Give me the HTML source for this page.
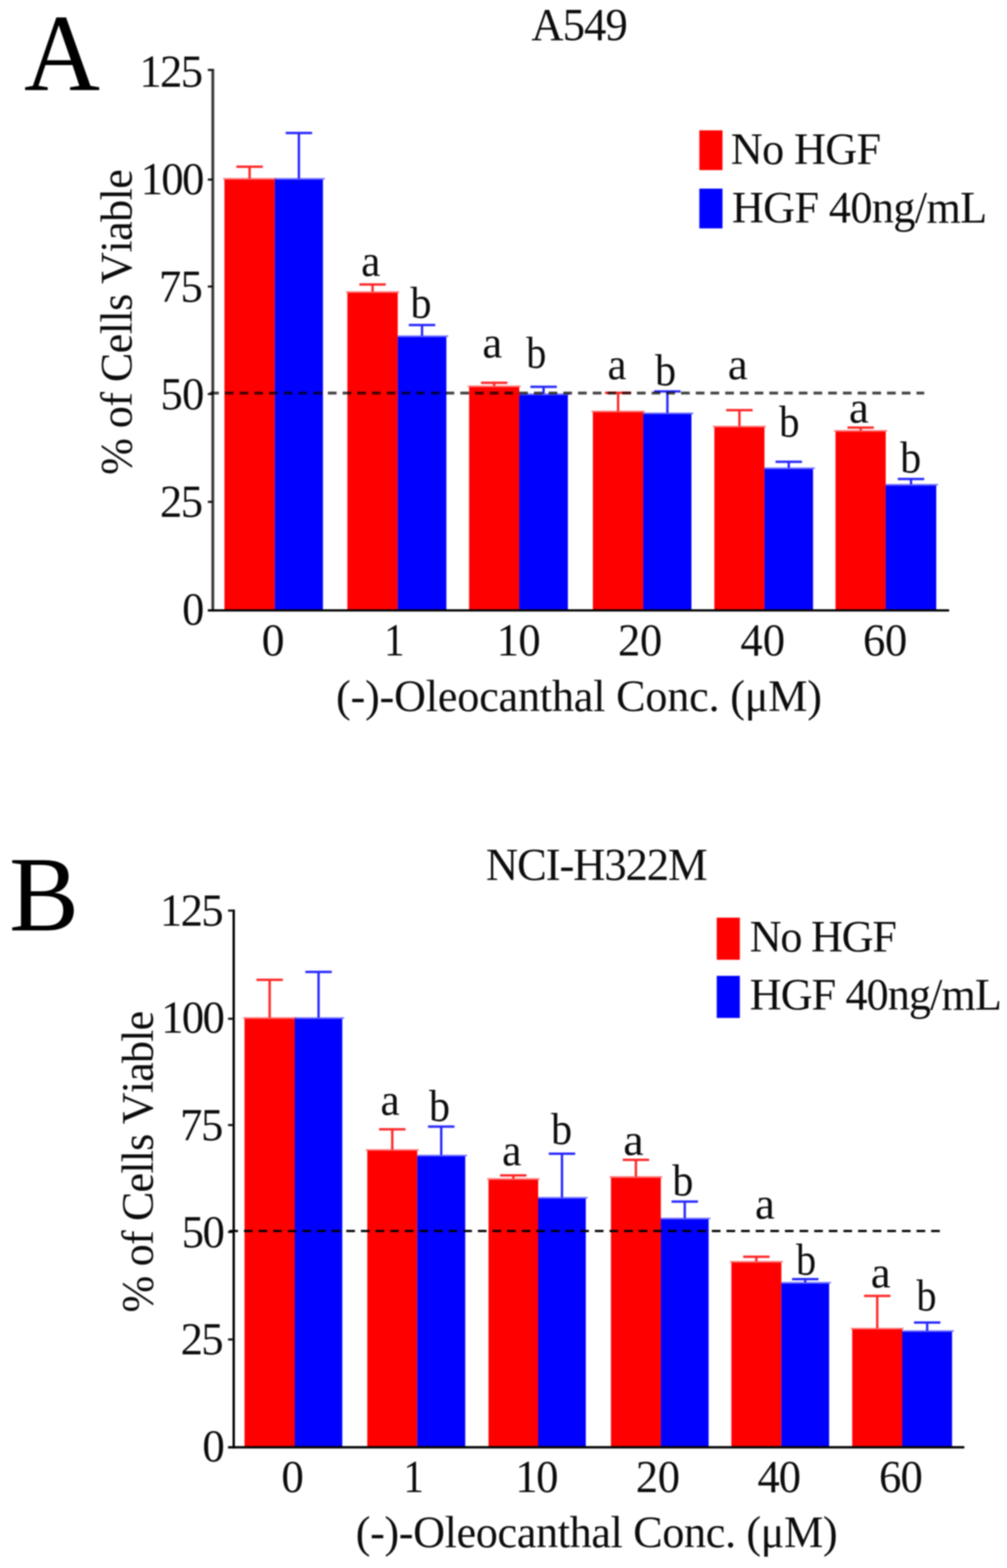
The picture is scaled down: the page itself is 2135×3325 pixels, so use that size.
<!DOCTYPE html>
<html lang="en">
<head>
<meta charset="utf-8">
<title>Cell viability vs (-)-oleocanthal concentration</title>
<style>
html,body{margin:0;padding:0;background:#fff;}
body{width:2135px;height:3325px;overflow:hidden;}
svg{display:block;}
svg text{font-family:"Liberation Serif","DejaVu Serif",serif;fill:#0c0c0c;font-kerning:none;font-variant-ligatures:none;white-space:pre;}
</style>
</head>
<body>
<svg width="2135" height="3325" viewBox="0 0 2135 3325">
<defs><filter id="soft" x="0" y="0" width="2135" height="3325" filterUnits="userSpaceOnUse" color-interpolation-filters="sRGB"><feGaussianBlur stdDeviation="1.6"/></filter></defs>
<rect width="2135" height="3325" fill="#fff"/>
<g filter="url(#soft)">
<rect width="2135" height="3325" fill="#fff"/>
<g id="panelA">
<rect x="472.8" y="377.5" width="112.8" height="3.2" fill="#ff0000" opacity="0.55"/>
<rect x="582.6" y="377.5" width="106.1" height="3.2" fill="#0000ff" opacity="0.55"/>
<rect x="733.5" y="617.7" width="112.8" height="3.2" fill="#ff0000" opacity="0.55"/>
<rect x="843.3" y="711.2" width="107.1" height="3.2" fill="#0000ff" opacity="0.55"/>
<rect x="991.6" y="817.5" width="112.3" height="3.2" fill="#ff0000" opacity="0.55"/>
<rect x="1100.9" y="834.3" width="107.1" height="3.2" fill="#0000ff" opacity="0.55"/>
<rect x="1254.0" y="870.9" width="112.9" height="3.2" fill="#ff0000" opacity="0.55"/>
<rect x="1363.9" y="874.8" width="106.1" height="3.2" fill="#0000ff" opacity="0.55"/>
<rect x="1511.5" y="902.9" width="112.3" height="3.2" fill="#ff0000" opacity="0.55"/>
<rect x="1620.8" y="991.2" width="107.0" height="3.2" fill="#0000ff" opacity="0.55"/>
<rect x="1768.4" y="912.0" width="112.5" height="3.2" fill="#ff0000" opacity="0.55"/>
<rect x="1877.9" y="1026.2" width="111.1" height="3.2" fill="#0000ff" opacity="0.55"/>
<rect x="475.8" y="380.7" width="106.8" height="913.6" fill="#ff0000"/>
<rect x="582.6" y="380.7" width="102.1" height="913.6" fill="#0000ff"/>
<path d="M529.2 378.5V353.6M501.2 353.6H557.2" stroke="#ff0000" stroke-width="5" fill="none" opacity="0.85"/>
<path d="M633.7 378.5V282.0M605.7 282.0H661.7" stroke="#0000ff" stroke-width="5" fill="none" opacity="0.85"/>
<rect x="736.5" y="620.9" width="106.8" height="673.4" fill="#ff0000"/>
<rect x="843.3" y="714.4" width="103.1" height="579.9" fill="#0000ff"/>
<path d="M789.9 618.7V603.2M761.9 603.2H817.9" stroke="#ff0000" stroke-width="5" fill="none" opacity="0.85"/>
<path d="M894.8 712.2V689.3M866.8 689.3H922.8" stroke="#0000ff" stroke-width="5" fill="none" opacity="0.85"/>
<rect x="994.6" y="820.7" width="106.3" height="473.6" fill="#ff0000"/>
<rect x="1100.9" y="837.5" width="103.1" height="456.8" fill="#0000ff"/>
<path d="M1047.8 818.5V811.7M1019.8 811.7H1075.8" stroke="#ff0000" stroke-width="5" fill="none" opacity="0.85"/>
<path d="M1152.5 835.3V820.2M1124.5 820.2H1180.5" stroke="#0000ff" stroke-width="5" fill="none" opacity="0.85"/>
<rect x="1257.0" y="874.1" width="106.9" height="420.2" fill="#ff0000"/>
<rect x="1363.9" y="878.0" width="102.1" height="416.3" fill="#0000ff"/>
<path d="M1310.5 871.9V833.0M1282.5 833.0H1338.5" stroke="#ff0000" stroke-width="5" fill="none" opacity="0.85"/>
<path d="M1415.0 875.8V830.0M1387.0 830.0H1443.0" stroke="#0000ff" stroke-width="5" fill="none" opacity="0.85"/>
<rect x="1514.5" y="906.1" width="106.3" height="388.2" fill="#ff0000"/>
<rect x="1620.8" y="994.4" width="103.0" height="299.9" fill="#0000ff"/>
<path d="M1567.7 903.9V869.7M1539.7 869.7H1595.7" stroke="#ff0000" stroke-width="5" fill="none" opacity="0.85"/>
<path d="M1672.3 992.2V979.2M1644.3 979.2H1700.3" stroke="#0000ff" stroke-width="5" fill="none" opacity="0.85"/>
<rect x="1771.4" y="915.2" width="106.5" height="379.1" fill="#ff0000"/>
<rect x="1877.9" y="1029.4" width="107.1" height="264.9" fill="#0000ff"/>
<path d="M1824.7 913.0V906.8M1796.7 906.8H1852.7" stroke="#ff0000" stroke-width="5" fill="none" opacity="0.85"/>
<path d="M1931.5 1027.2V1015.8M1903.5 1015.8H1959.5" stroke="#0000ff" stroke-width="5" fill="none" opacity="0.85"/>
<path d="M451.2 146.1V1296.7" stroke="#3a3a3a" stroke-width="6" fill="none"/>
<path d="M440.6 1294.3H2012.3" stroke="#000" stroke-width="4.8" fill="none"/>
<path d="M440.6 148.3H451.2" stroke="#111" stroke-width="4.5" fill="none"/>
<path d="M440.6 380.8H451.2" stroke="#111" stroke-width="4.5" fill="none"/>
<path d="M440.6 607.6H451.2" stroke="#111" stroke-width="4.5" fill="none"/>
<path d="M440.6 835.5H451.2" stroke="#111" stroke-width="4.5" fill="none"/>
<path d="M440.6 1064.2H451.2" stroke="#111" stroke-width="4.5" fill="none"/>
<line x1="445.5" y1="833.4" x2="1959.5" y2="833.4" stroke="#000" stroke-opacity="0.74" stroke-width="6" stroke-dasharray="18.5 12.7"/>
<text transform="translate(295.5 183.5) scale(0.9750 1)" font-size="97" letter-spacing="-3.50">125</text>
<text transform="translate(298.2 411.5) scale(0.9750 1)" font-size="97" letter-spacing="-3.50">100</text>
<text transform="translate(336.9 640.3) scale(0.9750 1)" font-size="97" letter-spacing="-1.59">75</text>
<text transform="translate(340.3 868.3) scale(0.9750 1)" font-size="97" letter-spacing="-1.72">50</text>
<text transform="translate(338.9 1096.3) scale(0.9750 1)" font-size="97" letter-spacing="-3.10">25</text>
<text transform="translate(386.2 1324.0) scale(0.9681 1)" font-size="97">0</text>
<text transform="translate(554.8 1390.3) scale(1.0022 1)" font-size="97">0</text>
<text transform="translate(814.3 1390.3) scale(0.9000 1)" font-size="97">1</text>
<text transform="translate(1052.9 1390.3) scale(0.9750 1)" font-size="97" letter-spacing="-1.29">10</text>
<text transform="translate(1310.2 1390.3) scale(0.9750 1)" font-size="97" letter-spacing="-0.74">20</text>
<text transform="translate(1569.8 1390.3) scale(0.9750 1)" font-size="97" letter-spacing="0.08">40</text>
<text transform="translate(1829.7 1390.3) scale(0.9750 1)" font-size="97" letter-spacing="-0.83">60</text>
<text transform="translate(712.5 1508.0) scale(0.9750 1)" font-size="96" letter-spacing="-0.41">(-)-Oleocanthal Conc. (μM)</text>
<text transform="translate(279.0 1006.9) rotate(-90) scale(0.9750 1)" font-size="96" letter-spacing="-1.26">% of Cells Viable</text>
<text transform="translate(1126.5 84.7) scale(0.9750 1)" font-size="97" letter-spacing="-1.90">A549</text>
<text transform="translate(51.1 190.6) scale(0.9563 1)" font-size="233" style="fill:#000">A</text>
<rect x="1482.7" y="276.4" width="49.1" height="84.3" fill="#ff0000"/>
<rect x="1482.7" y="400" width="49.1" height="84.3" fill="#0000ff"/>
<text transform="translate(1549.6 348.0) scale(0.9750 1)" font-size="96" letter-spacing="-1.35">No HGF</text>
<text transform="translate(1551.7 472.0) scale(0.9750 1)" font-size="96" letter-spacing="-1.28">HGF 40ng/mL</text>
<text transform="translate(765.8 585.3) scale(0.9697 1)" font-size="94.5">a</text>
<text transform="translate(870.3 674.1) scale(0.9439 1)" font-size="94.5">b</text>
<text transform="translate(1022.8 757.8) scale(1.0019 1)" font-size="94.5">a</text>
<text transform="translate(1115.8 780.1) scale(0.9000 1)" font-size="94.5">b</text>
<text transform="translate(1288.2 803.5) scale(0.9510 1)" font-size="94.5">a</text>
<text transform="translate(1388.8 817.1) scale(0.9461 1)" font-size="94.5">b</text>
<text transform="translate(1543.3 803.5) scale(1.0019 1)" font-size="94.5">a</text>
<text transform="translate(1651.8 926.2) scale(0.9187 1)" font-size="94.5">b</text>
<text transform="translate(1800.1 895.7) scale(1.0019 1)" font-size="94.5">a</text>
<text transform="translate(1908.6 1001.7) scale(0.9439 1)" font-size="94.5">b</text>
</g>
<g id="panelB">
<rect x="515.4" y="2157.1" width="112.6" height="3.2" fill="#ff0000" opacity="0.55"/>
<rect x="625.0" y="2157.1" width="104.7" height="3.2" fill="#0000ff" opacity="0.55"/>
<rect x="775.7" y="2436.9" width="111.9" height="3.2" fill="#ff0000" opacity="0.55"/>
<rect x="884.6" y="2448.6" width="105.8" height="3.2" fill="#0000ff" opacity="0.55"/>
<rect x="1032.7" y="2498.4" width="111.3" height="3.2" fill="#ff0000" opacity="0.55"/>
<rect x="1141.0" y="2538.2" width="105.0" height="3.2" fill="#0000ff" opacity="0.55"/>
<rect x="1292.3" y="2494.2" width="111.8" height="3.2" fill="#ff0000" opacity="0.55"/>
<rect x="1401.1" y="2582.2" width="105.3" height="3.2" fill="#0000ff" opacity="0.55"/>
<rect x="1547.6" y="2674.0" width="112.0" height="3.2" fill="#ff0000" opacity="0.55"/>
<rect x="1656.6" y="2718.4" width="105.3" height="3.2" fill="#0000ff" opacity="0.55"/>
<rect x="1803.8" y="2815.8" width="112.2" height="3.2" fill="#ff0000" opacity="0.55"/>
<rect x="1913.0" y="2820.9" width="109.5" height="3.2" fill="#0000ff" opacity="0.55"/>
<rect x="518.4" y="2160.3" width="106.6" height="908.7" fill="#ff0000"/>
<rect x="625.0" y="2160.3" width="100.7" height="908.7" fill="#0000ff"/>
<path d="M571.7 2158.1V2077.7M543.7 2077.7H599.7" stroke="#ff0000" stroke-width="5" fill="none" opacity="0.85"/>
<path d="M675.4 2158.1V2060.9M647.4 2060.9H703.4" stroke="#0000ff" stroke-width="5" fill="none" opacity="0.85"/>
<rect x="778.7" y="2440.1" width="105.9" height="628.9" fill="#ff0000"/>
<rect x="884.6" y="2451.8" width="101.8" height="617.2" fill="#0000ff"/>
<path d="M831.7 2437.9V2394.8M803.7 2394.8H859.7" stroke="#ff0000" stroke-width="5" fill="none" opacity="0.85"/>
<path d="M935.5 2449.6V2389.0M907.5 2389.0H963.5" stroke="#0000ff" stroke-width="5" fill="none" opacity="0.85"/>
<rect x="1035.7" y="2501.6" width="105.3" height="567.4" fill="#ff0000"/>
<rect x="1141.0" y="2541.4" width="101.0" height="527.6" fill="#0000ff"/>
<path d="M1088.3 2499.4V2492.6M1060.3 2492.6H1116.3" stroke="#ff0000" stroke-width="5" fill="none" opacity="0.85"/>
<path d="M1191.5 2539.2V2446.6M1163.5 2446.6H1219.5" stroke="#0000ff" stroke-width="5" fill="none" opacity="0.85"/>
<rect x="1295.3" y="2497.4" width="105.8" height="571.6" fill="#ff0000"/>
<rect x="1401.1" y="2585.4" width="101.3" height="483.6" fill="#0000ff"/>
<path d="M1348.2 2495.2V2459.5M1320.2 2459.5H1376.2" stroke="#ff0000" stroke-width="5" fill="none" opacity="0.85"/>
<path d="M1451.8 2583.2V2547.9M1423.8 2547.9H1479.8" stroke="#0000ff" stroke-width="5" fill="none" opacity="0.85"/>
<rect x="1550.6" y="2677.2" width="106.0" height="391.8" fill="#ff0000"/>
<rect x="1656.6" y="2721.6" width="101.3" height="347.4" fill="#0000ff"/>
<path d="M1603.6 2675.0V2665.0M1575.6 2665.0H1631.6" stroke="#ff0000" stroke-width="5" fill="none" opacity="0.85"/>
<path d="M1707.2 2719.4V2712.6M1679.2 2712.6H1735.2" stroke="#0000ff" stroke-width="5" fill="none" opacity="0.85"/>
<rect x="1806.8" y="2819.0" width="106.2" height="250.0" fill="#ff0000"/>
<rect x="1913.0" y="2824.1" width="105.5" height="244.9" fill="#0000ff"/>
<path d="M1859.9 2816.8V2748.0M1831.9 2748.0H1887.9" stroke="#ff0000" stroke-width="5" fill="none" opacity="0.85"/>
<path d="M1965.8 2821.9V2804.5M1937.8 2804.5H1993.8" stroke="#0000ff" stroke-width="5" fill="none" opacity="0.85"/>
<path d="M495.5 1928.7V3071.4" stroke="#000" stroke-width="5" fill="none"/>
<path d="M483.5 3069H2044.6" stroke="#000" stroke-width="4.8" fill="none"/>
<path d="M483.5 1931.0H495.5" stroke="#111" stroke-width="4.5" fill="none"/>
<path d="M483.5 2160.3H495.5" stroke="#111" stroke-width="4.5" fill="none"/>
<path d="M483.5 2385.7H495.5" stroke="#111" stroke-width="4.5" fill="none"/>
<path d="M483.5 2612.5H495.5" stroke="#111" stroke-width="4.5" fill="none"/>
<path d="M483.5 2840.4H495.5" stroke="#111" stroke-width="4.5" fill="none"/>
<line x1="486.2" y1="2610.4" x2="1992.7" y2="2610.4" stroke="#000" stroke-opacity="1" stroke-width="4.6" stroke-dasharray="18.4 12.6"/>
<text transform="translate(339.1 1962.8) scale(0.9750 1)" font-size="97" letter-spacing="-3.50">125</text>
<text transform="translate(341.7 2190.1) scale(0.9750 1)" font-size="97" letter-spacing="-3.50">100</text>
<text transform="translate(381.8 2417.6) scale(0.9750 1)" font-size="97" letter-spacing="-2.92">75</text>
<text transform="translate(385.2 2645.2) scale(0.9750 1)" font-size="97" letter-spacing="-3.16">50</text>
<text transform="translate(382.9 2872.4) scale(0.9750 1)" font-size="97" letter-spacing="-3.50">25</text>
<text transform="translate(429.1 3099.3) scale(0.9827 1)" font-size="97">0</text>
<text transform="translate(596.5 3163.8) scale(0.9851 1)" font-size="97">0</text>
<text transform="translate(855.3 3163.8) scale(0.9000 1)" font-size="97">1</text>
<text transform="translate(1092.6 3163.8) scale(0.9750 1)" font-size="97" letter-spacing="-3.24">10</text>
<text transform="translate(1348.0 3163.8) scale(0.9750 1)" font-size="97" letter-spacing="-0.74">20</text>
<text transform="translate(1606.1 3163.8) scale(0.9750 1)" font-size="97" letter-spacing="-2.39">40</text>
<text transform="translate(1863.7 3163.8) scale(0.9750 1)" font-size="97" letter-spacing="-1.75">60</text>
<text transform="translate(754.2 3281.0) scale(0.9750 1)" font-size="96" letter-spacing="-0.76">(-)-Oleocanthal Conc. (μM)</text>
<text transform="translate(324.3 2783.2) rotate(-90) scale(0.9750 1)" font-size="96" letter-spacing="-1.81">% of Cells Viable</text>
<text transform="translate(1030.2 1866.3) scale(0.9750 1)" font-size="97" letter-spacing="-2.36">NCI-H322M</text>
<text transform="translate(19.6 1972.6) scale(0.9805 1)" font-size="226" style="fill:#000">B</text>
<rect x="1519.6" y="1945.9" width="49" height="89.3" fill="#ff0000"/>
<rect x="1519.6" y="2069.3" width="49" height="89.3" fill="#0000ff"/>
<text transform="translate(1589.5 2017.5) scale(0.9750 1)" font-size="96" letter-spacing="-2.66">No HGF</text>
<text transform="translate(1589.5 2141.0) scale(0.9750 1)" font-size="96" letter-spacing="-1.97">HGF 40ng/mL</text>
<text transform="translate(806.8 2363.6) scale(0.9697 1)" font-size="94.5">a</text>
<text transform="translate(909.4 2377.2) scale(0.9439 1)" font-size="94.5">b</text>
<text transform="translate(1064.5 2470.8) scale(0.9805 1)" font-size="94.5">a</text>
<text transform="translate(1168.3 2425.9) scale(0.9461 1)" font-size="94.5">b</text>
<text transform="translate(1321.6 2449.3) scale(1.0314 1)" font-size="94.5">a</text>
<text transform="translate(1425.5 2535.0) scale(0.9439 1)" font-size="94.5">b</text>
<text transform="translate(1600.7 2584.0) scale(1.0019 1)" font-size="94.5">a</text>
<text transform="translate(1687.8 2702.8) scale(0.9003 1)" font-size="94.5">b</text>
<text transform="translate(1846.2 2730.1) scale(1.0019 1)" font-size="94.5">a</text>
<text transform="translate(1943.0 2778.8) scale(0.9003 1)" font-size="94.5">b</text>
</g>
</g>
</svg>
</body>
</html>
